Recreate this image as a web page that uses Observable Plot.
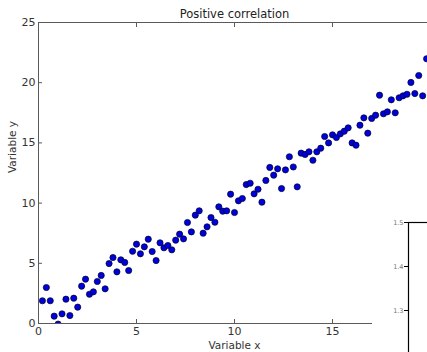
<!DOCTYPE html>
<html>
<head>
<meta charset="utf-8">
<script src="https://cdn.jsdelivr.net/npm/d3@7"></script>
<script src="https://cdn.jsdelivr.net/npm/@observablehq/plot@0.6"></script>
<style>
  html, body { margin: 0; padding: 0; background: #fff; }
  #wrap { position: relative; width: 427px; height: 352px; overflow: hidden; background: #fff; }
  #main { position: absolute; left: 0; top: 0; width: 440px; }
  #main svg, #inset svg { max-width: none !important; }
  #cover { position: absolute; left: 372px; top: 212px; width: 70px; height: 150px; background: #fff; }
  #inset { position: absolute; left: 0; top: 0; width: 70px; }
</style>
</head>
<body>
<div id="wrap">
  <div id="main"></div>
  <div id="cover"><div id="inset"></div></div>
</div>
<script>
const title = "Positive correlation";
const xLabel = "Variable x";
const yLabel = "Variable y";
const xTicks = [0, 5, 10, 15, 20];
const xTickLabels = [0, 5, 10, 15];
const yTicks = [0, 5, 10, 15, 20, 25];
const insetTicks = [1.2, 1.3, 1.4, 1.5];

const xs = [0.2, 0.4, 0.6, 0.8, 1.0, 1.2, 1.4, 1.6, 1.8, 2.0,
            2.2, 2.4, 2.6, 2.8, 3.0, 3.2, 3.4, 3.6, 3.8, 4.0,
            4.2, 4.4, 4.6, 4.8, 5.0, 5.2, 5.4, 5.6, 5.8, 6.0,
            6.2, 6.4, 6.6, 6.8, 7.0, 7.2, 7.4, 7.6, 7.8, 8.0,
            8.2, 8.4, 8.6, 8.8, 9.0, 9.2, 9.4, 9.6, 9.8, 10.0,
            10.2, 10.4, 10.6, 10.8, 11.0, 11.2, 11.4, 11.6, 11.8, 12.0,
            12.2, 12.4, 12.6, 12.8, 13.0, 13.2, 13.4, 13.6, 13.8, 14.0,
            14.2, 14.4, 14.6, 14.8, 15.0, 15.2, 15.4, 15.6, 15.8, 16.0,
            16.2, 16.4, 16.6, 16.8, 17.0, 17.2, 17.4, 17.6, 17.8, 18.0,
            18.2, 18.4, 18.6, 18.8, 19.0, 19.2, 19.4, 19.6, 19.8];
const ys = [1.89, 2.99, 1.89, 0.61, -0.05, 0.8, 2.02, 0.66, 2.1, 1.36,
            3.1, 3.68, 2.43, 2.63, 3.49, 3.99, 2.88, 4.98, 5.48, 4.29,
            5.29, 5.07, 4.4, 6.0, 6.59, 5.79, 6.37, 7.0, 5.98, 5.23,
            6.7, 6.29, 6.48, 6.12, 6.92, 7.42, 7.03, 8.39, 7.61, 9.0,
            9.36, 7.5, 8.03, 8.8, 8.41, 9.69, 9.33, 9.36, 10.74, 9.22,
            10.19, 10.38, 11.54, 11.65, 10.77, 11.15, 10.08, 11.88, 12.96, 12.32,
            12.85, 11.21, 12.76, 13.85, 13.0, 11.35, 14.15, 14.04, 14.26, 13.56,
            14.26, 14.56, 15.53, 15.0, 15.67, 15.45, 15.75, 15.97, 16.25, 15.0,
            14.81, 16.47, 17.08, 15.81, 17.03, 17.3, 18.96, 17.42, 17.58, 18.58,
            17.5, 18.75, 18.91, 19.04, 20.02, 19.1, 20.6, 18.91, 21.99];

const points = xs.map((x, i) => ({x, y: ys[i]}));
const spine = "#5a5a5a";
const none = () => "";

const main = Plot.plot({
  width: 440,
  height: 352,
  marginLeft: 38,
  marginRight: 10,
  marginTop: 22,
  marginBottom: 29,
  style: {fontFamily: "DejaVu Sans", fontSize: "11px", color: "#333", background: "#fff"},
  x: {domain: [0, 20], label: null},
  y: {domain: [0, 25], label: null},
  marks: [
    Plot.dot(points, {x: "x", y: "y", r: 3.1, fill: "#0000dc", stroke: "#000028", strokeWidth: 0.7, clip: true}),
    Plot.frame({stroke: spine, strokeWidth: 1}),
    Plot.axisX(xTicks, {anchor: "bottom", tickSize: -4, tickFormat: none, stroke: spine, label: null}),
    Plot.axisX(xTickLabels, {anchor: "bottom", tickSize: 0, tickPadding: 4, stroke: "none", fill: "#333", label: null}),
    Plot.axisX(xTicks, {anchor: "top", tickSize: -4, tickFormat: none, stroke: spine, label: null}),
    Plot.axisY(yTicks, {anchor: "left", tickSize: -4, tickPadding: 7, stroke: spine, fill: "#333", label: null}),
    Plot.axisY(yTicks, {anchor: "right", tickSize: -4, tickFormat: none, stroke: spine, label: null}),
    Plot.text([title], {text: d => d, frameAnchor: "top", dy: -8, fontSize: 11.5, fill: "#222", lineAnchor: "middle"}),
    Plot.text([xLabel], {text: d => d, frameAnchor: "bottom", dy: 22, fontSize: 10.5, fill: "#333", lineAnchor: "middle"}),
    Plot.text([yLabel], {text: d => d, frameAnchor: "left", dx: -26, rotate: -90, fontSize: 10.5, fill: "#333", lineAnchor: "middle"})
  ]
});
document.getElementById("main").appendChild(main);

const inset = Plot.plot({
  width: 70,
  height: 160,
  marginLeft: 36,
  marginRight: 0,
  marginTop: 10,
  marginBottom: 18,
  style: {fontFamily: "DejaVu Sans", fontSize: "6.5px", background: "transparent"},
  x: {domain: [0, 1], axis: null},
  y: {domain: [1.2, 1.5], label: null},
  marks: [
    Plot.frame({stroke: "#000", strokeWidth: 1.2}),
    Plot.axisY(insetTicks, {anchor: "left", tickSize: 4, tickPadding: 1, stroke: "#000", fill: "#777", label: null, tickFormat: d3.format(".1f")})
  ]
});
document.getElementById("inset").appendChild(inset);
</script>
</body>
</html>
